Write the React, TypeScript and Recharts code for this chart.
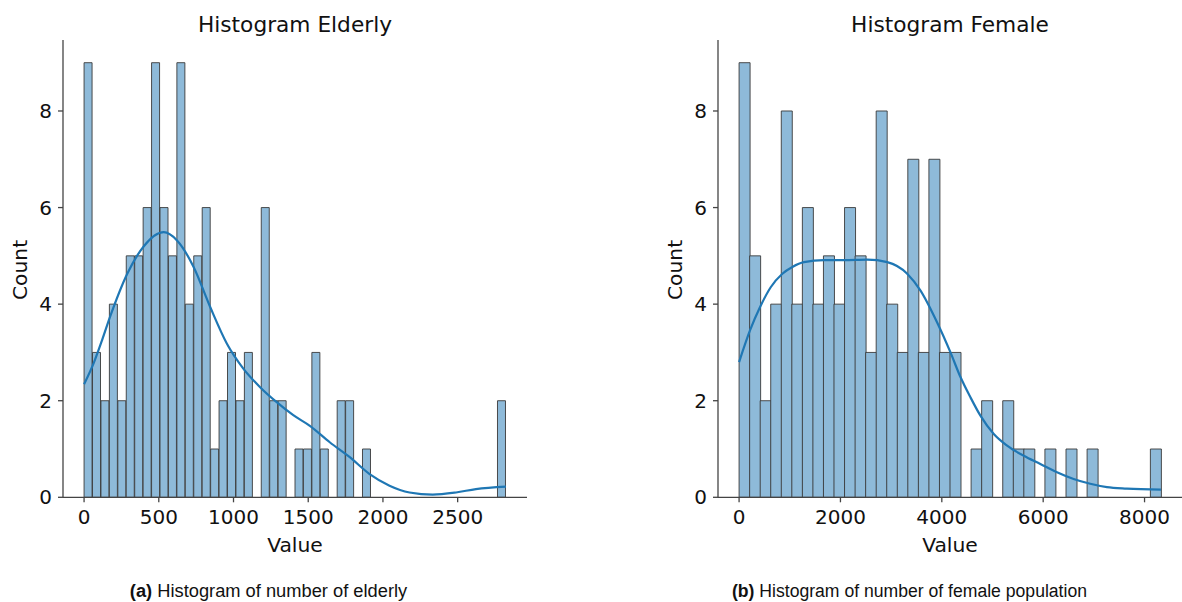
import { ComposedChart, Bar, Line, XAxis, YAxis } from "recharts";

// bin counts, first bin starts at 0
const elderlyCounts = [
  9, 3, 2, 4, 2, 5, 5, 6, 9, 6, 5, 9, 4, 5, 6, 1, 2, 3, 2, 3,
  0, 6, 2, 2, 0, 1, 1, 3, 1, 0, 2, 2, 0, 1,
  0, 0, 0, 0, 0, 0, 0, 0, 0, 0, 0, 0, 0, 0, 0, 2,
];
const elderlyBinWidth = 56.46;
const elderlyKdeX = [0, 67, 120, 173, 289, 400, 533, 622, 733, 844, 956, 1067, 1178, 1289, 1400, 1511, 1644, 1778, 1911, 2044, 2178, 2333, 2489, 2622, 2823];
const elderlyKdeY = [2.34, 2.8, 3.25, 3.73, 4.63, 5.2, 5.49, 5.32, 4.77, 3.94, 3.18, 2.66, 2.28, 1.97, 1.7, 1.48, 1.14, 0.83, 0.48, 0.24, 0.1, 0.055, 0.1, 0.17, 0.22];
const elderlyTicks = [0, 500, 1000, 1500, 2000, 2500];

const femaleCounts = [
  9, 5, 2, 4, 8, 4, 6, 4, 5, 4, 6, 5, 3, 8, 4, 3, 7, 3, 7, 3, 3,
  0, 1, 2, 0, 2, 1, 1, 0, 1, 0, 1, 0, 1,
  0, 0, 0, 0, 0, 1,
];
const femaleBinWidth = 208.08;
const femaleKdeX = [0, 217, 414, 624, 854, 1051, 1281, 1675, 2069, 2529, 2923, 3317, 3580, 3908, 4171, 4368, 4565, 4762, 5025, 5288, 5616, 5944, 6272, 6601, 6929, 7257, 7651, 8323];
const femaleKdeY = [2.8, 3.46, 3.94, 4.35, 4.63, 4.77, 4.87, 4.91, 4.91, 4.92, 4.87, 4.63, 4.28, 3.62, 3.0, 2.49, 2.07, 1.69, 1.31, 1.07, 0.86, 0.69, 0.52, 0.38, 0.28, 0.21, 0.18, 0.16];
const femaleTicks = [0, 2000, 4000, 6000, 8000];

const countTicks = [0, 2, 4, 6, 8];

const BAR_FILL = "#8ebad9";
const BAR_EDGE = "#3a3a3a";
const KDE_COLOR = "#1f77b4";
const SPINE = "#444";
const FONT = "'DejaVu Sans', sans-serif";

interface HistProps {
  counts: number[];
  binWidth: number;
  kdeX: number[];
  kdeY: number[];
  xTicks: number[];
  xDomain: [number, number];
  marginLeft: number;
  marginRight: number;
}

function Histogram({ counts, binWidth, kdeX, kdeY, xTicks, xDomain, marginLeft, marginRight }: HistProps) {
  const bins = counts.map((c, i) => ({ x: binWidth * (i + 0.5), count: c }));
  const kde = kdeX.map((x, i) => ({ x, y: kdeY[i] }));
  const tick = { fill: "#111", fontSize: 20, fontFamily: FONT };
  return (
    <ComposedChart
      width={591}
      height={560}
      data={bins}
      margin={{ top: 40, right: marginRight, bottom: 0, left: marginLeft }}
      barCategoryGap={0}
      barGap={0}
    >
      <XAxis
        dataKey="x"
        type="number"
        domain={xDomain}
        ticks={xTicks}
        height={62.7}
        tick={tick}
        tickSize={5}
        tickMargin={7}
        stroke={SPINE}
        axisLine={{ stroke: SPINE, strokeWidth: 1.3 }}
        tickLine={{ stroke: SPINE, strokeWidth: 1.3 }}
      />
      <XAxis xAxisId="kde" dataKey="x" type="number" domain={xDomain} hide />
      <YAxis
        type="number"
        domain={[0, 9.47]}
        ticks={countTicks}
        width={63}
        tick={tick}
        tickSize={5}
        tickMargin={6}
        stroke={SPINE}
        axisLine={{ stroke: SPINE, strokeWidth: 1.3 }}
        tickLine={{ stroke: SPINE, strokeWidth: 1.3 }}
      />
      <Bar dataKey="count" fill={BAR_FILL} stroke={BAR_EDGE} strokeWidth={0.9} isAnimationActive={false} />
      <Line
        xAxisId="kde"
        data={kde}
        dataKey="y"
        type="monotone"
        stroke={KDE_COLOR}
        strokeWidth={2.2}
        dot={false}
        isAnimationActive={false}
      />
    </ComposedChart>
  );
}

export default function App() {
  return (
    <div style={{ position: "absolute", left: 0, top: 0, width: 1182, height: 602, background: "#fff" }}>
      <div style={{ position: "absolute", left: 0, top: 0 }}>
        <Histogram
          counts={elderlyCounts}
          binWidth={elderlyBinWidth}
          kdeX={elderlyKdeX}
          kdeY={elderlyKdeY}
          xTicks={elderlyTicks}
          xDomain={[-141, 2964]}
          marginLeft={0}
          marginRight={64}
        />
      </div>
      <div style={{ position: "absolute", left: 591, top: 0 }}>
        <Histogram
          counts={femaleCounts}
          binWidth={femaleBinWidth}
          kdeX={femaleKdeX}
          kdeY={femaleKdeY}
          xTicks={femaleTicks}
          xDomain={[-416, 8739]}
          marginLeft={64}
          marginRight={0}
        />
      </div>
      <svg width={1182} height={602} style={{ position: "absolute", left: 0, top: 0, pointerEvents: "none" }}>
        <g fontFamily={FONT} fill="#111" textAnchor="middle">
          <text x={295} y={31.7} fontSize={21.7}>Histogram Elderly</text>
          <text x={950} y={31.7} fontSize={21.7}>Histogram Female</text>
          <text x={295} y={551.5} fontSize={20.3}>Value</text>
          <text x={950} y={551.5} fontSize={20.3}>Value</text>
          <text transform="translate(26.7,270) rotate(-90)" fontSize={20.3}>Count</text>
          <text transform="translate(681.7,270) rotate(-90)" fontSize={20.3}>Count</text>
        </g>
        <g fontFamily="'Liberation Sans', Arial, sans-serif" fill="#111" textAnchor="middle">
          <text x={268.5} y={596.5} fontSize={18.3}>
            <tspan fontWeight="bold">(a)</tspan> Histogram of number of elderly
          </text>
          <text x={909.5} y={596.5} fontSize={17.6}>
            <tspan fontWeight="bold">(b)</tspan> Histogram of number of female population
          </text>
        </g>
      </svg>
    </div>
  );
}
